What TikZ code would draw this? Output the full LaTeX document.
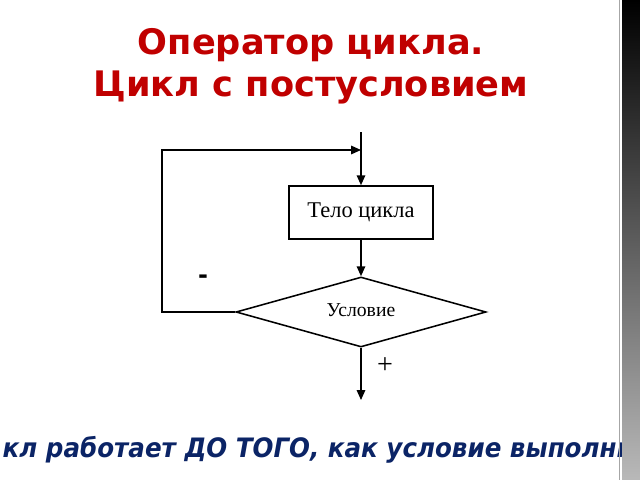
\documentclass[tikz,border=0pt]{standalone}
\usepackage{fontspec}
\setmainfont{Liberation Serif}
\newfontfamily\slidefont{DejaVu Sans}
\usetikzlibrary{shapes.geometric,arrows.meta}
\definecolor{titlered}{HTML}{C00000}
\definecolor{notenavy}{HTML}{0B2466}

\begin{document}
\begin{tikzpicture}[x=0.025cm,y=-0.025cm,line width=1.1pt,
  >={Triangle[length=7pt,width=6pt]},
  block/.style={draw,rectangle,minimum width=3.6cm,minimum height=1.325cm,inner sep=0pt,font=\fontsize{16}{18}\selectfont},
  decision/.style={draw,diamond,aspect=3.57,minimum width=6.25cm,minimum height=1.75cm,inner sep=0pt,font=\fontsize{14}{17}\selectfont}]
\useasboundingbox (0,0) rectangle (640,480);
% title
\node[align=center,text=titlered,font=\slidefont\bfseries\fontsize{25}{30}\selectfont] (head) at (311,66) {Оператор цикла.\\Цикл с постусловием};
% flowchart
\node[block] (body) at (361,212.5) {\raisebox{2pt}{Тело цикла}};
\node[decision] (cond) at (361,312) {\raisebox{3pt}{Условие}};
\coordinate (entry) at (361,132);
\coordinate (join) at (361,150);
\coordinate (corner) at (162,150);
\coordinate (exit) at (361,400);
\draw[->] (entry) -- (body);
\draw[->] (body) -- (cond);
\draw[->] (cond.west) -| (corner) -- (join);
\draw[->] (cond) -- (exit);
\node[font=\slidefont\bfseries\fontsize{17}{18}\selectfont] (minus) at (203,279) {-};
\node[font=\fontsize{20}{22}\selectfont] (plus) at (385,366) {+};
% note
\node[anchor=west,inner sep=0pt,xscale=0.92,text=notenavy,font=\slidefont\bfseries\itshape\fontsize{19}{22}\selectfont] (note) at (2,450) {кл работает ДО ТОГО, как условие выполни};
% frame strip
\shade[top color=black,bottom color=gray!55] (622,0) rectangle (640,480);
\draw[gray!70,line width=0.6pt] (619.5,0) -- (619.5,480);
\end{tikzpicture}
\end{document}
